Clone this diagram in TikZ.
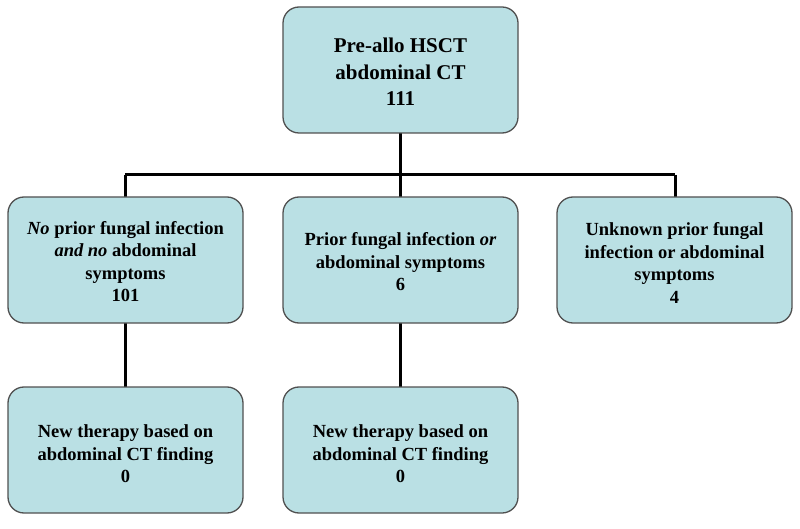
\documentclass[tikz,border=0pt]{standalone}
\usepackage{fontspec}
\setmainfont{Liberation Serif}
\newfontfamily\tnr{Liberation Serif}
\definecolor{boxfill}{RGB}{186,224,228}
\definecolor{boxline}{RGB}{80,80,80}
\begin{document}
\begin{tikzpicture}[x=1pt,y=-1pt,
  box/.style={draw=boxline, line width=1.3pt, fill=boxfill, rounded corners=16pt,
    align=center, inner sep=0pt, minimum width=235pt, minimum height=126pt,
    font=\tnr\bfseries\fontsize{18.5}{22.5}\selectfont},
  topbox/.style={box, font=\tnr\bfseries\fontsize{21}{26.5}\selectfont},
  conn/.style={line width=3pt, black}]
\useasboundingbox (0,0) rectangle (800,529);
\coordinate (j) at (400,175);
\draw[conn] (400,70) -- (j);
\draw[conn] (125,175) -- (675,175);
\draw[conn] (125,175) -- (125,450);
\draw[conn] (400,175) -- (400,450);
\draw[conn] (675,175) -- (675,260);
\node[topbox] (top) at (400.5,70) {\rule{0pt}{19pt}Pre-allo HSCT\\abdominal CT\\111};
\node[box] (m1) at (125.5,260) {\rule{0pt}{16pt}\textit{No} prior fungal infection\\\textit{and no} abdominal\\symptoms\\101};
\node[box] (m2) at (400.5,260) {\rule{0pt}{17pt}Prior fungal infection \textit{or}\\abdominal symptoms\\6};
\node[box] (m3) at (674.5,260) {\rule{0pt}{19pt}Unknown prior fungal\\infection or abdominal\\symptoms\\4};
\node[box] (b1) at (125.5,450) {\rule{0pt}{21pt}New therapy based on\\abdominal CT finding\\0};
\node[box] (b2) at (400.5,450) {\rule{0pt}{21pt}New therapy based on\\abdominal CT finding\\0};
\end{tikzpicture}
\end{document}
